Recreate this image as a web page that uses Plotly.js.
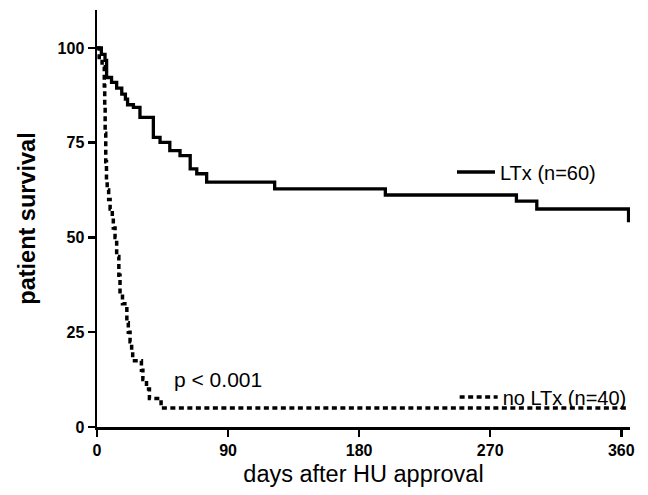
<!DOCTYPE html>
<html>
<head>
<meta charset="utf-8">
<script src="https://cdn.plot.ly/plotly-3.0.1.min.js"></script>
<style>
html,body{margin:0;padding:0;background:#fff;}
#chart{width:648px;height:495px;}
</style>
</head>
<body>
<div id="chart"></div>
<script>
// Kaplan-Meier survival data (days after HU approval, % surviving)
var ltxDays = [0, 3, 5.5, 6.6, 10, 13.5, 17, 19.5, 21, 25, 29.5, 38.7, 43.3, 50, 57, 64, 68.5, 75.3, 122, 198, 288, 302, 365];
var ltxSurv = [100, 98.3, 96.7, 92.2, 90.9, 89.4, 87.8, 86.5, 85.0, 84.3, 81.7, 76.4, 75.1, 72.9, 71.6, 68.1, 66.8, 64.6, 62.8, 61.2, 59.6, 57.5, 54.0];

var noLtxDays = [0, 1.5, 3.5, 5, 5.3, 5.6, 6, 6.5, 7, 8, 9, 10.5, 11.2, 12.4, 13.5, 15, 15.8, 17.5, 20.5, 21.5, 22.7, 23.8, 24.5, 30.5, 31.5, 34, 36, 44, 365];
var noLtxSurv = [100, 97.5, 95, 90, 85, 77.5, 70, 65, 62.5, 60, 57.5, 55, 52.5, 50, 45, 40, 35, 32.5, 27.5, 25, 22.5, 20, 17.5, 15, 12.5, 10, 7.5, 5, 5];

var ltxName = "LTx (n=60)";
var noLtxName = "no LTx (n=40)";
var xTicks = [0, 90, 180, 270, 360];
var yTicks = [0, 25, 50, 75, 100];
var pText = "p < 0.001";

var FONT = "Arial, 'Liberation Sans', sans-serif";

var traces = [
  {
    x: ltxDays, y: ltxSurv, name: ltxName, type: "scatter", mode: "lines",
    line: {shape: "hv", color: "#000", width: 3.3},
    legend: "legend"
  },
  {
    x: noLtxDays, y: noLtxSurv, name: noLtxName, type: "scatter", mode: "lines",
    line: {shape: "hv", color: "#000", width: 3.5, dash: "5px,3.5px"},
    legend: "legend2"
  }
];

var layout = {
  width: 648, height: 495,
  margin: {l: 97, r: 18, t: 10, b: 68},
  paper_bgcolor: "#fff", plot_bgcolor: "#fff",
  font: {family: FONT, color: "#000"},
  showlegend: true,
  xaxis: {
    range: [0, 366], tickvals: xTicks, ticktext: xTicks.map(String),
    showgrid: false, zeroline: false, showline: true, linecolor: "#000", linewidth: 2.5,
    ticks: "outside", ticklen: 7, tickwidth: 2.5, tickcolor: "#000",
    tickfont: {family: FONT, size: 16, weight: "bold", color: "#000"},
    title: {text: "days after HU approval", font: {family: FONT, size: 23.5, color: "#000"}, standoff: 8},
    fixedrange: true
  },
  yaxis: {
    range: [0, 110], tickvals: yTicks, ticktext: yTicks.map(String),
    showgrid: false, zeroline: false, showline: true, linecolor: "#000", linewidth: 2.5,
    ticks: "outside", ticklen: 7, tickwidth: 2.5, tickcolor: "#000",
    tickfont: {family: FONT, size: 16, weight: "bold", color: "#000"},
    title: {text: "patient survival", font: {family: FONT, size: 23.5, weight: "bold", color: "#000"}, standoff: 16},
    fixedrange: true
  },
  legend: {
    x: 0.666, y: 0.6115, xanchor: "left", yanchor: "middle", itemwidth: 38,
    bgcolor: "rgba(0,0,0,0)", borderwidth: 0,
    font: {family: FONT, size: 20, color: "#000"}
  },
  legend2: {
    x: 0.671, y: 0.072, xanchor: "left", yanchor: "middle", itemwidth: 38,
    bgcolor: "rgba(0,0,0,0)", borderwidth: 0,
    font: {family: FONT, size: 20, color: "#000"}
  },
  annotations: [
    {x: 83, y: 12.6, xref: "x", yref: "y", text: pText, showarrow: false,
     font: {family: FONT, size: 21, color: "#000"}, xanchor: "center", yanchor: "middle"}
  ]
};

Plotly.newPlot("chart", traces, layout, {staticPlot: true, displayModeBar: false});
</script>
</body>
</html>
